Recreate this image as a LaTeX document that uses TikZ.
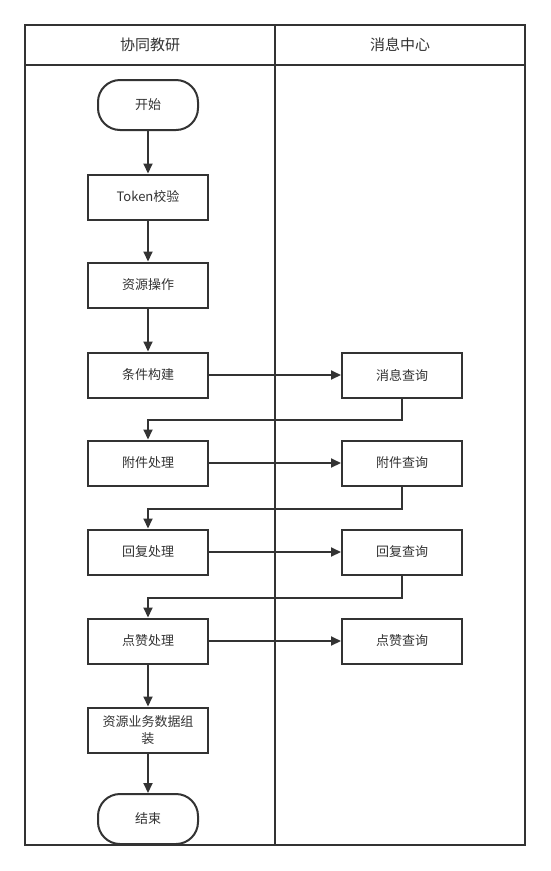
\documentclass[tikz,border=0pt]{standalone}
\usepackage{fontspec}
\newfontfamily\cjk{Noto Sans CJK SC}
\usetikzlibrary{arrows.meta}
\definecolor{ink}{HTML}{333333}
\tikzset{
  stepbox/.style={draw=ink, line width=2pt, fill=white, minimum width=120pt,
    minimum height=45pt, align=center, font=\cjk\fontsize{13}{17}\selectfont,
    text=ink, inner sep=2pt},
  termbox/.style={stepbox, minimum width=100pt, minimum height=50pt, rounded corners=22pt},
  flow/.style={draw=ink, line width=2pt, -{Triangle[length=10pt,width=9pt]}},
  lane/.style={draw=ink, line width=2pt}
}
\begin{document}
\begin{tikzpicture}[x=1pt, y=-1pt]
  \useasboundingbox (0,0) rectangle (550,871);
  % The pool
  \draw [lane] (25,25) rectangle (525,845);
  \draw [lane] (25,65) -- (525,65);
  \draw [lane] (275,25) -- (275,845);
  \node [text=ink, font=\cjk\fontsize{15}{17}\selectfont] (laneA) at (150,45) {协同教研};
  \node [text=ink, font=\cjk\fontsize{15}{17}\selectfont] (laneB) at (400,45) {消息中心};

  % Left lane
  \node [termbox] (start) at (148,105) {开始};
  \node [stepbox] (token) at (148,197) {Token校验};
  \node [stepbox] (res) at (148,285) {资源操作};
  \node [stepbox] (cond) at (148,375) {条件构建};
  \node [stepbox] (att) at (148,463) {附件处理};
  \node [stepbox] (reply) at (148,552) {回复处理};
  \node [stepbox] (like) at (148,641) {点赞处理};
  \node [stepbox] (pack) at (148,730) {资源业务数据组\\装};
  \node [termbox] (stop) at (148,819) {结束};

  % Right lane
  \node [stepbox] (msgq) at (402,375) {消息查询};
  \node [stepbox] (attq) at (402,463) {附件查询};
  \node [stepbox] (replyq) at (402,552) {回复查询};
  \node [stepbox] (likeq) at (402,641) {点赞查询};

  % Main flow
  \draw [flow] (start) -- (token);
  \draw [flow] (token) -- (res);
  \draw [flow] (res) -- (cond);
  \draw [flow] (like) -- (pack);
  \draw [flow] (pack) -- (stop);

  % Calls to the message centre
  \draw [flow] (cond) -- (msgq);
  \draw [flow] (att) -- (attq);
  \draw [flow] (reply) -- (replyq);
  \draw [flow] (like) -- (likeq);

  % Returns
  \draw [flow] (msgq.south) -- ++(0,21) -| (att.north);
  \draw [flow] (attq.south) -- ++(0,22) -| (reply.north);
  \draw [flow] (replyq.south) -- ++(0,22) -| (like.north);
\end{tikzpicture}
\end{document}
